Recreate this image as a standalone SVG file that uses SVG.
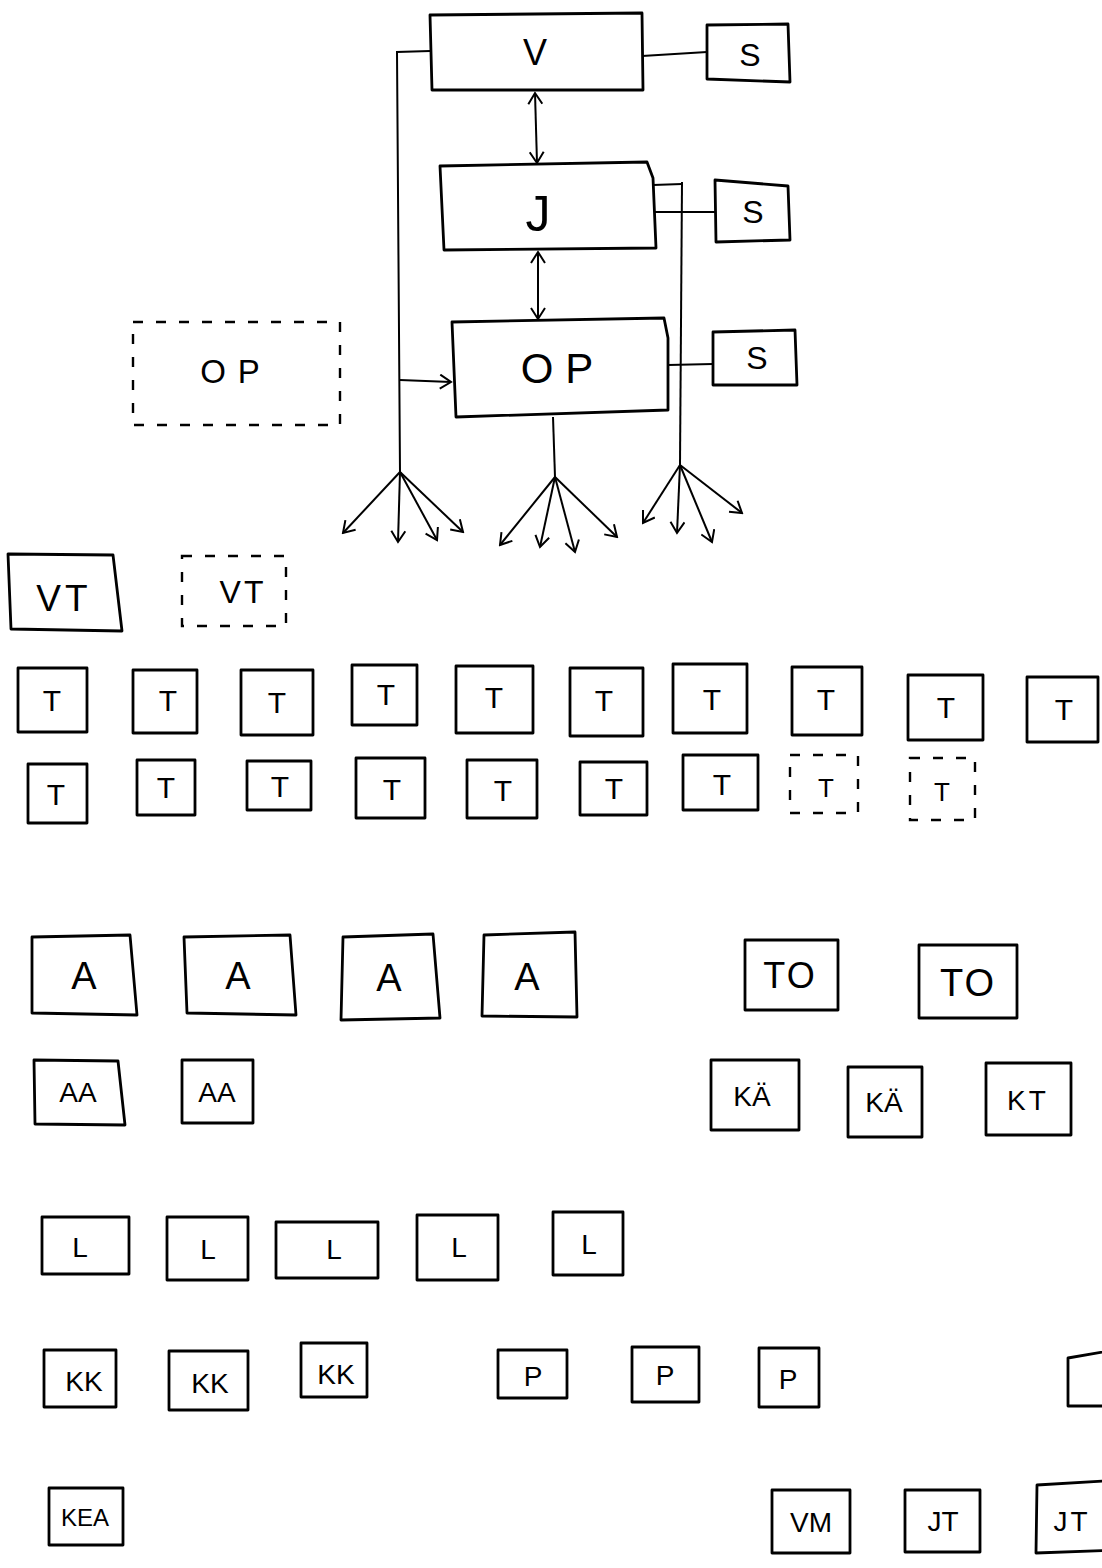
<svg xmlns="http://www.w3.org/2000/svg" width="1102" height="1568" viewBox="0 0 1102 1568">
<style>
.b{fill:none;stroke:#000;stroke-width:2.8;stroke-linejoin:round}
.d{fill:none;stroke:#000;stroke-width:2.4;stroke-dasharray:10 13}
.c{fill:none;stroke:#000;stroke-width:2}
text{font-family:"Liberation Sans",Arial,sans-serif;fill:#000;text-anchor:middle}
.s{font-size:32px}
.tt{font-size:30px}
.a{font-size:38px}
.m{font-size:28px}
</style>
<defs>
<marker id="ah" viewBox="-13 -8 15 16" markerWidth="15" markerHeight="16" markerUnits="userSpaceOnUse" refX="0" refY="0" orient="auto-start-reverse">
<path d="M-11,-7 L0,0 L-11,7" fill="none" stroke="#000" stroke-width="2"/>
</marker>
</defs>
<rect width="1102" height="1568" fill="#fff"/>

<g id="connectors">
<path class="c" d="M430,51 L397,52 L400,472"/>
<path class="c" d="M400,380 L451,382" marker-end="url(#ah)"/>
<path class="c" d="M642,56 L707,52"/>
<path class="c" d="M535,93 L537,163" marker-start="url(#ah)" marker-end="url(#ah)"/>
<path class="c" d="M653,185 L682,184"/>
<path class="c" d="M682,182 L680,465"/>
<path class="c" d="M655,212 L715,212"/>
<path class="c" d="M538,252 L538,319" marker-start="url(#ah)" marker-end="url(#ah)"/>
<path class="c" d="M668,365 L713,364"/>
<path class="c" d="M553,417 L555,477"/>
<path class="c" d="M400,472 L343,533" marker-end="url(#ah)"/>
<path class="c" d="M400,472 L398,542" marker-end="url(#ah)"/>
<path class="c" d="M400,472 L437,540" marker-end="url(#ah)"/>
<path class="c" d="M400,472 L463,532" marker-end="url(#ah)"/>
<path class="c" d="M555,477 L500,545" marker-end="url(#ah)"/>
<path class="c" d="M555,477 L540,547" marker-end="url(#ah)"/>
<path class="c" d="M555,477 L575,552" marker-end="url(#ah)"/>
<path class="c" d="M555,477 L617,537" marker-end="url(#ah)"/>
<path class="c" d="M680,465 L643,523" marker-end="url(#ah)"/>
<path class="c" d="M680,465 L677,533" marker-end="url(#ah)"/>
<path class="c" d="M680,465 L712,542" marker-end="url(#ah)"/>
<path class="c" d="M680,465 L742,513" marker-end="url(#ah)"/>
</g>

<g id="node-V"><path class="b" d="M430,15 L642,13 L643,90 L432,90 Z"/><text x="535" y="65" style="font-size:36px">V</text></g>
<g id="node-S1"><path class="b" d="M707,25 L788,24 L790,82 L707,79 Z"/><text class="s" x="750" y="66">S</text></g>
<g id="node-J"><path class="b" d="M440,166 L647,162 L653,178 L656,248 L444,250 Z"/><text x="538" y="231" style="font-size:50px">J</text></g>
<g id="node-S2"><path class="b" d="M715,180 L788,186 L790,240 L716,242 Z"/><text class="s" x="753" y="223">S</text></g>
<g id="node-OP"><path class="b" d="M452,322 L664,318 L668,338 L668,410 L456,417 Z"/><text x="563" y="383" style="font-size:42px;letter-spacing:12px">OP</text></g>
<g id="node-S3"><path class="b" d="M713,332 L795,330 L797,385 L713,385 Z"/><text class="s" x="757" y="369">S</text></g>
<g id="node-OP-dashed"><rect class="d" x="133" y="322" width="207" height="103"/><text x="236" y="383" style="font-size:33px;letter-spacing:12px">OP</text></g>

<g id="node-VT"><path class="b" d="M8,554 L113,555 L122,631 L11,629 Z"/><text x="64" y="611" style="font-size:37px;letter-spacing:4px">VT</text></g>
<g id="node-VT-dashed"><rect class="d" x="182" y="556" width="104" height="70"/><text x="243" y="603" style="font-size:32px;letter-spacing:3px">VT</text></g>

<g id="node-T1"><rect class="b" x="18" y="668" width="69" height="64"/><text class="tt" x="52" y="711">T</text></g>
<g id="node-T2"><rect class="b" x="133" y="670" width="64" height="63"/><text class="tt" x="168" y="711">T</text></g>
<g id="node-T3"><rect class="b" x="241" y="670" width="72" height="65"/><text class="tt" x="277" y="713">T</text></g>
<g id="node-T4"><rect class="b" x="352" y="665" width="65" height="60"/><text class="tt" x="386" y="705">T</text></g>
<g id="node-T5"><rect class="b" x="456" y="666" width="77" height="67"/><text class="tt" x="494" y="708">T</text></g>
<g id="node-T6"><rect class="b" x="570" y="668" width="73" height="68"/><text class="tt" x="604" y="711">T</text></g>
<g id="node-T7"><rect class="b" x="673" y="664" width="74" height="69"/><text class="tt" x="712" y="710">T</text></g>
<g id="node-T8"><rect class="b" x="792" y="667" width="70" height="68"/><text class="tt" x="826" y="710">T</text></g>
<g id="node-T9"><rect class="b" x="908" y="675" width="75" height="65"/><text class="tt" x="946" y="718">T</text></g>
<g id="node-T10"><rect class="b" x="1027" y="677" width="71" height="65"/><text class="tt" x="1064" y="720">T</text></g>

<g id="node-T11"><rect class="b" x="28" y="764" width="59" height="59"/><text class="tt" x="56" y="805">T</text></g>
<g id="node-T12"><rect class="b" x="137" y="760" width="58" height="55"/><text class="tt" x="166" y="798">T</text></g>
<g id="node-T13"><rect class="b" x="247" y="761" width="64" height="49"/><text class="tt" x="280" y="797">T</text></g>
<g id="node-T14"><rect class="b" x="356" y="758" width="69" height="60"/><text class="tt" x="392" y="800">T</text></g>
<g id="node-T15"><rect class="b" x="467" y="760" width="70" height="58"/><text class="tt" x="503" y="801">T</text></g>
<g id="node-T16"><rect class="b" x="580" y="762" width="67" height="53"/><text class="tt" x="614" y="799">T</text></g>
<g id="node-T17"><rect class="b" x="683" y="755" width="75" height="55"/><text class="tt" x="722" y="795">T</text></g>
<g id="node-T18"><rect class="d" x="790" y="755" width="68" height="58"/><text class="tt" x="826" y="797" style="font-size:26px">T</text></g>
<g id="node-T19"><rect class="d" x="910" y="758" width="65" height="62"/><text class="tt" x="942" y="801" style="font-size:26px">T</text></g>

<g id="node-A1"><path class="b" d="M32,937 L130,935 L137,1015 L32,1013 Z"/><text class="a" x="84" y="989">A</text></g>
<g id="node-A2"><path class="b" d="M184,937 L290,935 L296,1015 L187,1013 Z"/><text class="a" x="238" y="989">A</text></g>
<g id="node-A3"><path class="b" d="M343,937 L433,934 L440,1018 L341,1020 Z"/><text class="a" x="389" y="991">A</text></g>
<g id="node-A4"><path class="b" d="M484,935 L575,932 L577,1017 L482,1016 Z"/><text class="a" x="527" y="990">A</text></g>
<g id="node-TO1"><rect class="b" x="745" y="940" width="93" height="70"/><text x="790" y="988" style="font-size:36px;letter-spacing:2px">TO</text></g>
<g id="node-TO2"><rect class="b" x="919" y="945" width="98" height="73"/><text x="968" y="996" style="font-size:38px;letter-spacing:2px">TO</text></g>

<g id="node-AA1"><path class="b" d="M34,1060 L118,1061 L125,1125 L35,1124 Z"/><text class="m" x="78" y="1102">AA</text></g>
<g id="node-AA2"><rect class="b" x="182" y="1060" width="71" height="63"/><text class="m" x="217" y="1102">AA</text></g>
<g id="node-KA1"><rect class="b" x="711" y="1060" width="88" height="70"/><text class="m" x="752" y="1106">KÄ</text></g>
<g id="node-KA2"><rect class="b" x="848" y="1067" width="74" height="70"/><text class="m" x="884" y="1112">KÄ</text></g>
<g id="node-KT"><rect class="b" x="986" y="1063" width="85" height="72"/><text class="m" x="1028" y="1110" style="letter-spacing:3px">KT</text></g>

<g id="node-L1"><rect class="b" x="42" y="1217" width="87" height="57"/><text class="m" x="80" y="1257">L</text></g>
<g id="node-L2"><rect class="b" x="167" y="1217" width="81" height="63"/><text class="m" x="208" y="1259">L</text></g>
<g id="node-L3"><rect class="b" x="276" y="1222" width="102" height="56"/><text class="m" x="334" y="1259">L</text></g>
<g id="node-L4"><rect class="b" x="417" y="1215" width="81" height="65"/><text class="m" x="459" y="1257">L</text></g>
<g id="node-L5"><rect class="b" x="553" y="1212" width="70" height="63"/><text class="m" x="589" y="1254">L</text></g>

<g id="node-KK1"><rect class="b" x="44" y="1350" width="72" height="57"/><text class="m" x="84" y="1391">KK</text></g>
<g id="node-KK2"><rect class="b" x="169" y="1351" width="79" height="59"/><text class="m" x="210" y="1393">KK</text></g>
<g id="node-KK3"><rect class="b" x="301" y="1343" width="66" height="54"/><text class="m" x="336" y="1384">KK</text></g>
<g id="node-P1"><rect class="b" x="498" y="1350" width="69" height="48"/><text class="m" x="533" y="1386">P</text></g>
<g id="node-P2"><rect class="b" x="632" y="1347" width="67" height="55"/><text class="m" x="665" y="1385">P</text></g>
<g id="node-P3"><rect class="b" x="759" y="1348" width="60" height="59"/><text class="m" x="788" y="1389">P</text></g>
<g id="node-partial"><path class="b" d="M1120,1349 L1068,1358 L1068,1406 L1120,1406"/></g>

<g id="node-KEA"><rect class="b" x="49" y="1488" width="74" height="57"/><text x="85" y="1526" style="font-size:24px">KEA</text></g>
<g id="node-VM"><rect class="b" x="772" y="1490" width="78" height="63"/><text class="m" x="811" y="1532">VM</text></g>
<g id="node-JT1"><rect class="b" x="905" y="1490" width="75" height="62"/><text class="m" x="943" y="1531">JT</text></g>
<g id="node-JT2"><path class="b" d="M1120,1480 L1037,1485 L1036,1553 L1120,1550"/><text class="m" x="1072" y="1531" style="letter-spacing:3px">JT</text></g>
</svg>
